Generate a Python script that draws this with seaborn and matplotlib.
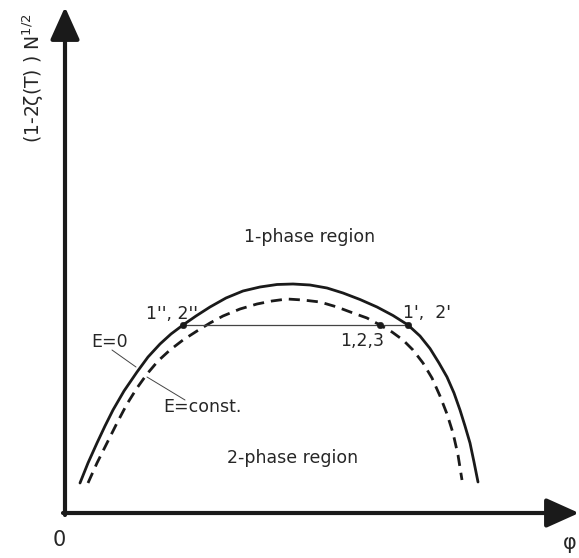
import matplotlib
matplotlib.use("Agg")
import matplotlib.pyplot as plt
import seaborn as sns
import numpy as np

# binodal curves (phi, (1-2zeta(T)) N^1/2)
phi_e0 = [0.030, 0.046, 0.064, 0.080, 0.096, 0.118, 0.144, 0.166, 0.190, 0.212,
          0.236, 0.262, 0.290, 0.322, 0.356, 0.390, 0.424, 0.456, 0.490, 0.524,
          0.556, 0.590, 0.624, 0.656, 0.686, 0.710, 0.730, 0.748, 0.764, 0.778,
          0.790, 0.800, 0.810, 0.818, 0.826]
y_e0 = [0.060, 0.100, 0.140, 0.174, 0.206, 0.244, 0.282, 0.312, 0.338, 0.358,
        0.376, 0.394, 0.412, 0.430, 0.444, 0.452, 0.457, 0.458, 0.456, 0.450,
        0.440, 0.427, 0.412, 0.395, 0.376, 0.354, 0.329, 0.300, 0.272, 0.240,
        0.206, 0.174, 0.140, 0.102, 0.062]

phi_ec = [0.046, 0.064, 0.084, 0.104, 0.124, 0.144, 0.164, 0.186, 0.210, 0.236,
          0.264, 0.290, 0.316, 0.350, 0.384, 0.414, 0.444, 0.476, 0.510, 0.544,
          0.576, 0.604, 0.630, 0.654, 0.676, 0.696, 0.716, 0.734, 0.750, 0.764,
          0.776, 0.786, 0.794]
y_ec = [0.060, 0.100, 0.140, 0.180, 0.218, 0.250, 0.278, 0.304, 0.326, 0.346,
        0.364, 0.380, 0.394, 0.408, 0.418, 0.424, 0.428, 0.426, 0.422, 0.412,
        0.400, 0.390, 0.376, 0.362, 0.346, 0.326, 0.300, 0.270, 0.234, 0.198,
        0.160, 0.116, 0.066]

# tie line and marked points
tie_phi = [0.236, 0.686]
tie_y = 0.376
pts_phi = [0.236, 0.630, 0.686]
pts_y = [0.376, 0.376, 0.376]

sns.set_style("white")
plt.rcParams['font.family'] = ['DejaVu Sans']

fig = plt.figure(figsize=(5.79, 5.58), dpi=100)
ax = fig.add_axes([0, 0, 1, 1])
ax.set_xlim(-0.13, 1.028)
ax.set_ylim(-0.09, 1.026)
ax.axis("off")

col = "#1a1a1a"

# axes arrows
arrow = dict(arrowstyle="-|>,head_length=1.0,head_width=0.45",
             lw=3, color=col, mutation_scale=20, shrinkA=0, shrinkB=0)
ax.annotate("", xy=(1.028, 0), xytext=(-0.004, 0), arrowprops=arrow,
            annotation_clip=False)
ax.annotate("", xy=(0, 1.012), xytext=(0, -0.004), arrowprops=arrow,
            annotation_clip=False)

sns.lineplot(x=phi_e0, y=y_e0, ax=ax, color=col, lw=2, sort=False, estimator=None)
l2 = sns.lineplot(x=phi_ec, y=y_ec, ax=ax, color=col, lw=2, sort=False, estimator=None)
l2.lines[-1].set_dashes((4, 2.5))
for ln in ax.lines:
    ln.set_solid_joinstyle("round")
    ln.set_dash_joinstyle("round")

ax.plot(tie_phi, [tie_y, tie_y], color="#444444", lw=0.9)
sns.scatterplot(x=pts_phi, y=pts_y, ax=ax, color=col, s=22, edgecolor=col, zorder=5)

# leader lines
ax.plot([0.094, 0.142], [0.326, 0.292], color="#444444", lw=0.7)
ax.plot([0.164, 0.240], [0.272, 0.226], color="#444444", lw=0.7)

fs = 12.5
ax.text(0.490, 0.552, "1-phase region", ha="center", va="center", fontsize=fs)
ax.text(0.456, 0.110, "2-phase region", ha="center", va="center", fontsize=fs)
ax.text(0.214, 0.398, "1'', 2''", ha="center", va="center", fontsize=fs)
ax.text(0.724, 0.400, "1',  2'", ha="center", va="center", fontsize=fs)
ax.text(0.594, 0.344, "1,2,3", ha="center", va="center", fontsize=fs)
ax.text(0.090, 0.342, "E=0", ha="center", va="center", fontsize=fs)
ax.text(0.274, 0.212, "E=const.", ha="center", va="center", fontsize=fs)

ax.text(-0.012, -0.054, "0", ha="center", va="center", fontsize=15)
ax.text(1.010, -0.060, "φ", ha="center", va="center", fontsize=15)
ax.text(-0.064, 0.870, r"(1-2ζ(T) ) N$^{1/2}$", rotation=90,
        ha="center", va="center", fontsize=13.5)

fig.savefig("out.png", dpi=100)
